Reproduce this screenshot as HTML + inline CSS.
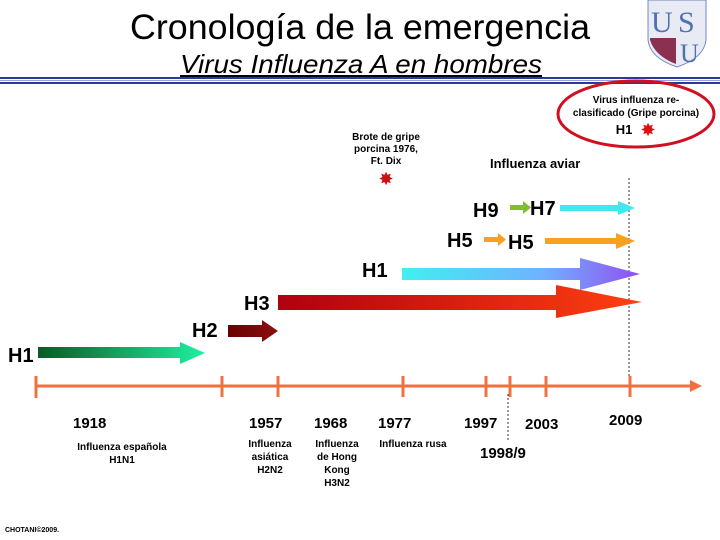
<!DOCTYPE html>
<html><head><meta charset="utf-8"><style>body{margin:0;background:#fff}svg{display:block}</style></head><body>
<svg width="720" height="540" viewBox="0 0 720 540" xmlns="http://www.w3.org/2000/svg" font-family="Liberation Sans, sans-serif">
<defs>
<linearGradient id="g1" x1="0" x2="1"><stop offset="0" stop-color="#0b5a24"/><stop offset="1" stop-color="#1ff0a0"/></linearGradient>
<linearGradient id="g2" x1="0" x2="1"><stop offset="0" stop-color="#6a0000"/><stop offset="1" stop-color="#8b1010"/></linearGradient>
<linearGradient id="g3" x1="0" x2="1"><stop offset="0" stop-color="#b00010"/><stop offset="1" stop-color="#ff4010"/></linearGradient>
<linearGradient id="g4" x1="0" x2="1"><stop offset="0" stop-color="#40f0f0"/><stop offset="0.6" stop-color="#70b0ff"/><stop offset="1" stop-color="#9050f0"/></linearGradient>
</defs>
<text x="360" y="39" font-size="35" text-anchor="middle" textLength="460" lengthAdjust="spacingAndGlyphs">Cronología de la emergencia</text>
<text x="361" y="73" font-size="26" font-style="italic" text-anchor="middle" text-decoration="underline" textLength="362" lengthAdjust="spacingAndGlyphs">Virus Influenza A en hombres</text>
<rect x="0" y="77" width="720" height="2" fill="#2a3a9a"/>
<rect x="0" y="80" width="720" height="1" fill="#9aa0d0"/>
<rect x="0" y="82" width="720" height="2" fill="#2a3a9a"/>
<path d="M648 0 H706 V40 Q704 58 677 67 Q650 58 648 40 Z" fill="#e8eaf4" stroke="#7088c0"/>
<text x="651" y="32" font-size="30" font-family="Liberation Serif, serif" fill="#5070b0">U</text>
<text x="678" y="32" font-size="30" font-family="Liberation Serif, serif" fill="#5070b0">S</text>
<path d="M650 38 L676 38 L676 64 Q655 56 650 40 Z" fill="#8a3050"/>
<text x="680" y="62" font-size="26" font-family="Liberation Serif, serif" fill="#5070b0">U</text>
<ellipse cx="636" cy="114" rx="78" ry="33" fill="none" stroke="#d01020" stroke-width="3"/>
<g font-weight="bold" font-size="10" text-anchor="middle">
<text x="636" y="103">Virus influenza re-</text>
<text x="636" y="116">clasificado (Gripe porcina)</text>
<text x="386" y="140">Brote de gripe</text>
<text x="386" y="152">porcina 1976,</text>
<text x="386" y="164">Ft. Dix</text>
</g>
<text x="624" y="134" font-size="13" font-weight="bold" text-anchor="middle">H1</text>
<text x="648" y="136" font-size="18" fill="#e01010" text-anchor="middle">✸</text>
<text x="386" y="185" font-size="18" fill="#d01010" text-anchor="middle">✸</text>
<text x="490" y="168" font-size="13" font-weight="bold">Influenza aviar</text>
<line x1="629" y1="178" x2="629" y2="382" stroke="#333" stroke-dasharray="2,2"/>
<line x1="508" y1="394" x2="508" y2="442" stroke="#333" stroke-dasharray="2,2"/>
<path d="M38 347 H180 V342 L205 353 L180 364 V358 H38 Z" fill="url(#g1)"/>
<path d="M228 325 H262 V320 L278 331 L262 342 V337 H228 Z" fill="url(#g2)"/>
<path d="M278 295 H556 V285 L642 302 L556 318 V310 H278 Z" fill="url(#g3)"/>
<path d="M402 268 H580 V258 L640 274 L580 290 V280 H402 Z" fill="url(#g4)"/>
<path d="M545 238 H616 V233 L635 241 L616 249 V244 H545 Z" fill="#f8a020"/>
<path d="M484 237 H498 V233 L506 239.5 L498 246 V242 H484 Z" fill="#f8a020"/>
<path d="M510 205 H523 V201 L531 207.5 L523 214 V210 H510 Z" fill="#80c020"/>
<path d="M560 205 H618 V201 L635 208 L618 215 V211 H560 Z" fill="#40e8f0"/>
<g font-weight="bold" font-size="20">
<text x="8" y="362">H1</text>
<text x="192" y="337">H2</text>
<text x="244" y="310">H3</text>
<text x="362" y="277">H1</text>
<text x="447" y="247">H5</text>
<text x="508" y="249">H5</text>
<text x="473" y="217">H9</text>
<text x="530" y="215">H7</text>
</g>
<line x1="35" y1="386" x2="695" y2="386" stroke="#f07040" stroke-width="3"/>
<path d="M690 380 L702 386 L690 392 Z" fill="#f07040"/>
<g stroke="#f07040" stroke-width="3">
<line x1="36" y1="376" x2="36" y2="398"/><line x1="222" y1="376" x2="222" y2="397"/>
<line x1="278" y1="376" x2="278" y2="397"/><line x1="403" y1="376" x2="403" y2="397"/>
<line x1="486" y1="376" x2="486" y2="397"/><line x1="510" y1="376" x2="510" y2="397"/>
<line x1="546" y1="376" x2="546" y2="397"/><line x1="630" y1="376" x2="630" y2="397"/>
</g>
<g font-weight="bold" font-size="15">
<text x="73" y="428">1918</text><text x="249" y="428">1957</text><text x="314" y="428">1968</text>
<text x="378" y="428">1977</text><text x="464" y="428">1997</text><text x="525" y="429">2003</text>
<text x="609" y="425">2009</text><text x="480" y="458">1998/9</text>
</g>
<g font-weight="bold" font-size="10" text-anchor="middle">
<text x="122" y="450">Influenza española</text><text x="122" y="463">H1N1</text>
<text x="270" y="447">Influenza</text><text x="270" y="460">asiática</text><text x="270" y="473">H2N2</text>
<text x="337" y="447">Influenza</text><text x="337" y="460">de Hong</text><text x="337" y="473">Kong</text><text x="337" y="486">H3N2</text>
<text x="413" y="447">Influenza rusa</text>
</g>
<text x="5" y="532" font-size="7" font-weight="bold">CHOTANI©2009.</text>
</svg>
</body></html>
